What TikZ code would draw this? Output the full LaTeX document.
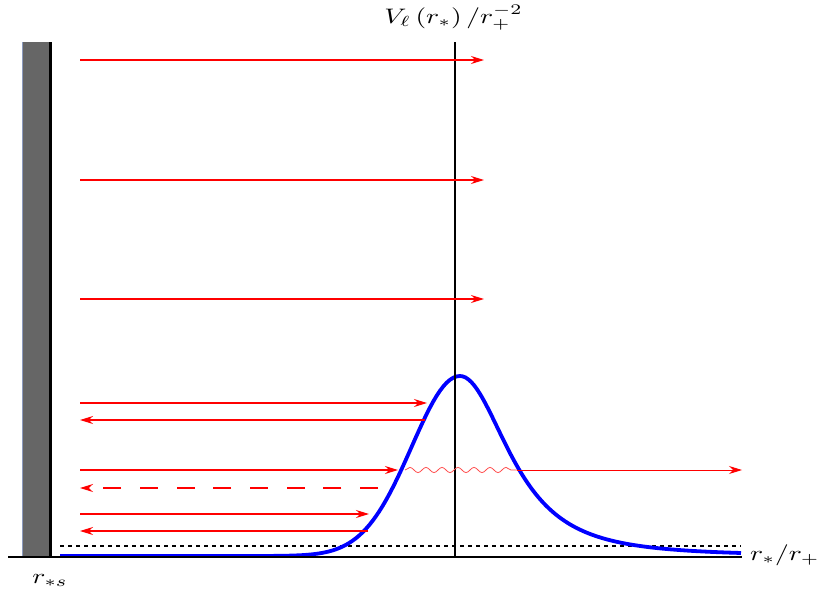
\documentclass[tikz,border=0pt]{standalone}
\usepackage{graphicx}
\usetikzlibrary{arrows.meta,decorations.pathmorphing}
\newcommand{\bigtxt}[1]{\scalebox{2.74}[2.1]{#1}}
\begin{document}
\begin{tikzpicture}[x=1pt,y=-1pt,
  ray/.style={red, line width=1.4pt, -{Stealth[length=13pt,width=8pt]}},
  axisline/.style={black, line width=2pt},
  lbl/.style={inner sep=0pt},
  declare function={
    gl(\x)=exp(-((\x-460)/68.4)*((\x-460)/68.4));
    gr(\x)=1/((1+((\x-460)/74.4)*((\x-460)/74.4))*sqrt(1+((\x-460)/74.4)*((\x-460)/74.4)));
  }]
\useasboundingbox (0,0) rectangle (817,597);
% wall
\fill[black!60] (22,42) rectangle (49,556);
\draw[color={rgb,255:red,140;green,155;blue,190}, line width=1pt] (22.5,42) -- (22.5,556);
% dotted line
\coordinate (d1) at (60,546);
\coordinate (d2) at (741,546);
\draw[black, line width=2pt, dash pattern=on 4pt off 4pt] (d1) -- (d2);
% potential curve
\draw[blue, line width=3.8pt]
  plot[domain=60:460, samples=120] (\x,{556-180*gl(\x)})
  -- plot[domain=460:741, samples=100] (\x,{556-180*gr(\x)});
% axes
\coordinate (xa0) at (8,556.5);
\coordinate (xa1) at (742,556.5);
\coordinate (ya0) at (455,556);
\coordinate (ya1) at (455,42);
\draw[axisline] (xa0) -- (xa1);
\draw[axisline] (ya0) -- (ya1);
\draw[black, line width=3pt] (50,42) -- (50,557);
% labels
\node[lbl, anchor=base] (vlab) at (453.5,23.5) {\bigtxt{$V_\ell\left(r_*\right)/r_+^{-2}$}};
\node[lbl, anchor=base west] (xlab) at (750,560) {\bigtxt{$r_*/r_+$}};
\node[lbl, anchor=base] (slab) at (50,583) {\bigtxt{$r_{*s}$}};
% rays
\coordinate (a1l) at (80,60);  \coordinate (a1r) at (484,60);
\coordinate (a2l) at (80,180); \coordinate (a2r) at (484,180);
\coordinate (a3l) at (80,299); \coordinate (a3r) at (484,299);
\draw[ray] (a1l) -- (a1r);
\draw[ray] (a2l) -- (a2r);
\draw[ray] (a3l) -- (a3r);
\coordinate (b1l) at (80,403); \coordinate (b1r) at (427,403);
\coordinate (b2l) at (80,420); \coordinate (b2r) at (425,420);
\draw[ray] (b1l) -- (b1r);
\draw[ray] (b2r) -- (b2l);
\coordinate (c1l) at (80,470); \coordinate (c1r) at (398,470);
\coordinate (c2l) at (80,488); \coordinate (c2r) at (378,488);
\draw[ray] (c1l) -- (c1r);
\draw[ray, dash pattern=on 18pt off 18.7pt, dash phase=0pt] (c2r) -- (c2l);
\coordinate (w1) at (405,470); \coordinate (w2) at (517,470); \coordinate (w3) at (742,470);
\draw[red!70, line width=0.8pt, decorate, decoration={snake, segment length=16pt, amplitude=2.6pt}] (w1) -- (w2);
\draw[red, line width=0.9pt, -{Stealth[length=13pt,width=8pt]}] (w2) -- (w3);
\coordinate (e1l) at (80,514); \coordinate (e1r) at (369,514);
\coordinate (e2l) at (80,531); \coordinate (e2r) at (368,531);
\draw[ray] (e1l) -- (e1r);
\draw[ray] (e2r) -- (e2l);
\end{tikzpicture}
\end{document}
